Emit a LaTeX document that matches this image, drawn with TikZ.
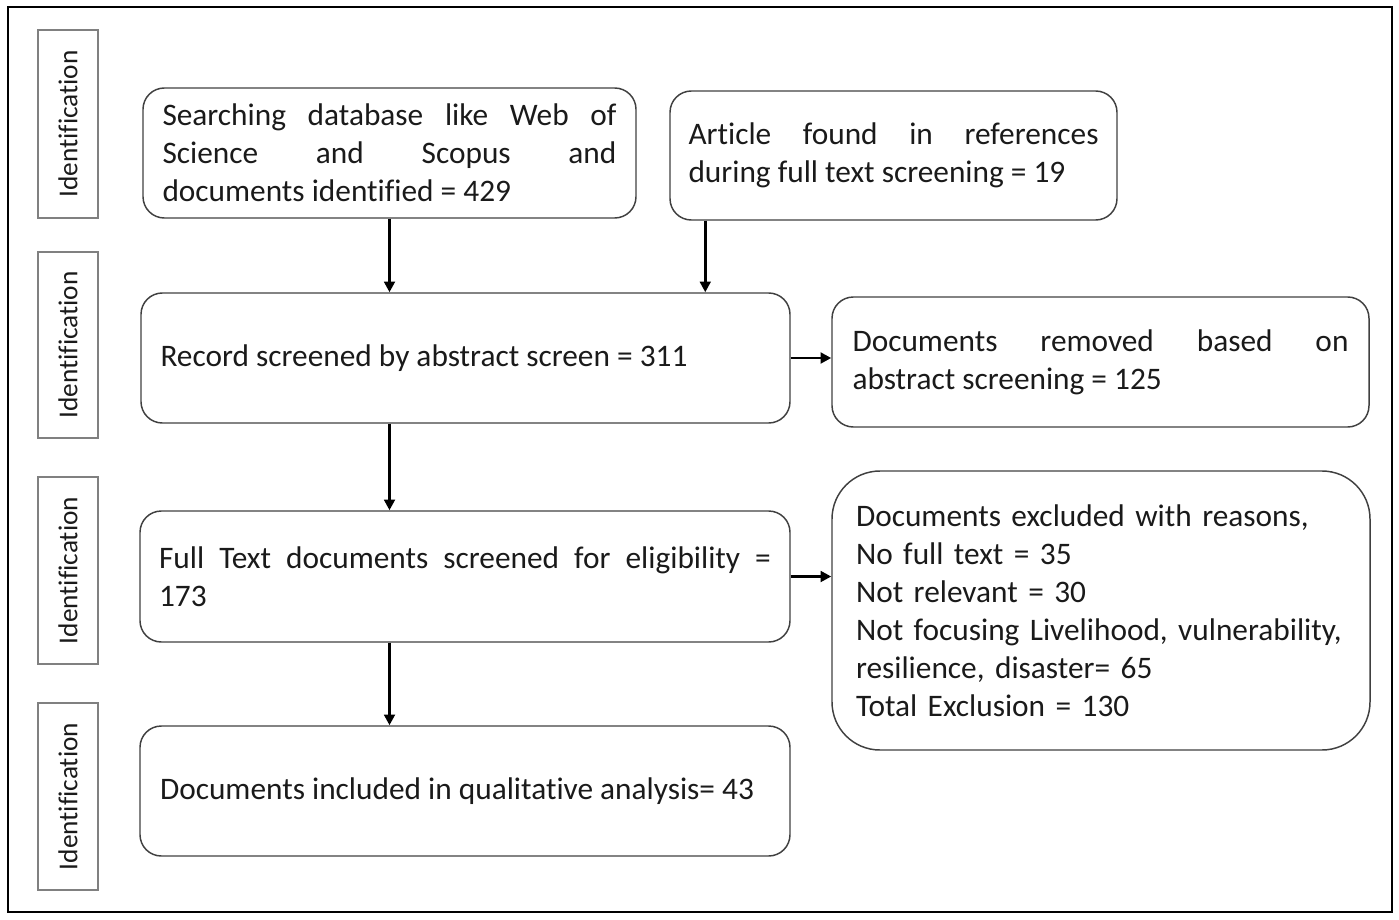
\documentclass[tikz,border=0pt]{standalone}
\usepackage{fontspec}
\setmainfont[Ligatures=NoCommon]{Carlito}
\usetikzlibrary{arrows.meta}
\newcommand\PX{0.75pt}
\definecolor{boxline}{HTML}{404040}
\definecolor{lblline}{HTML}{808080}
\definecolor{txt}{HTML}{1A1A1A}
\begin{document}
\begin{tikzpicture}[x=0.75pt,y=-0.75pt,
  flowbox/.style={draw=boxline, line width=1.1pt, rounded corners=16pt, inner xsep=0pt, inner ysep=0pt,
    text=txt, font=\fontsize{23.5}{28.5}\selectfont, align=justify},
  lblbox/.style={draw=lblline, line width=1pt, minimum width=60*\PX, text=txt,
    font=\fontsize{20.5}{24}\selectfont, inner sep=0pt},
  arr/.style={draw=black, line width=2.2pt, -{Triangle[length=8pt,width=8pt]}}]
\useasboundingbox (0,0) rectangle (1399,920);
\node[draw=black, line width=1.5pt, minimum width=1384*\PX, minimum height=905*\PX, inner sep=0pt] (frame) at (700,459.5) {};

% side labels
\node[lblbox, minimum height=188*\PX] (L1) at (68,124) {\rotatebox{90}{Identification}};
\node[lblbox, minimum height=186*\PX] (L2) at (68,345) {\rotatebox{90}{Identification}};
\node[lblbox, minimum height=187*\PX] (L3) at (68,570.5) {\rotatebox{90}{Identification}};
\node[lblbox, minimum height=187*\PX] (L4) at (68,796.5) {\rotatebox{90}{Identification}};

% flow boxes
\node[flowbox, minimum width=493*\PX, minimum height=130*\PX, text width=454*\PX] (A) at (389.5,153)
  {Searching database like Web of\linebreak Science and Scopus and\linebreak documents identified = 429};
\node[flowbox, minimum width=447*\PX, minimum height=129*\PX, text width=410*\PX] (B) at (893.5,155.5)
  {Article found in references\linebreak during full text screening = 19};
\node[flowbox, minimum width=649*\PX, minimum height=130*\PX, text width=610*\PX] (C) at (465.5,358)
  {Record screened by abstract screen = 311};
\node[flowbox, minimum width=537*\PX, minimum height=130*\PX, text width=496*\PX] (D) at (1100.5,362)
  {Documents removed based on\linebreak abstract screening = 125};
\node[flowbox, minimum width=650*\PX, minimum height=131*\PX, text width=612*\PX] (E) at (465,576.5)
  {Full Text documents screened for eligibility =\linebreak 173};
\node[flowbox, rounded corners=36pt, align=left, minimum width=538*\PX, minimum height=279*\PX, text width=490*\PX] (F) at (1101,610.5)
  {Documents excluded with reasons,\\ No full text = 35\\ Not relevant = 30\\ Not focusing Livelihood, vulnerability,\\ resilience, disaster= 65\\ Total Exclusion = 130\\[30pt]};
\node[flowbox, minimum width=650*\PX, minimum height=130*\PX, text width=610*\PX] (G) at (465,791)
  {Documents included in qualitative analysis= 43};

% connectors
\coordinate (b1) at ([xshift=36*\PX]B.south west);
\draw[arr] (A.south) -- (A.south |- C.north);
\draw[arr] (b1) -- (b1 |- C.north);
\draw[arr] (C.east) -- (C.east -| D.west);
\draw[arr] (C.south -| A.south) -- (E.north -| A.south);
\draw[arr] (E.east) -- (E.east -| F.west);
\draw[arr] (E.south -| A.south) -- (G.north -| A.south);
\end{tikzpicture}
\end{document}
